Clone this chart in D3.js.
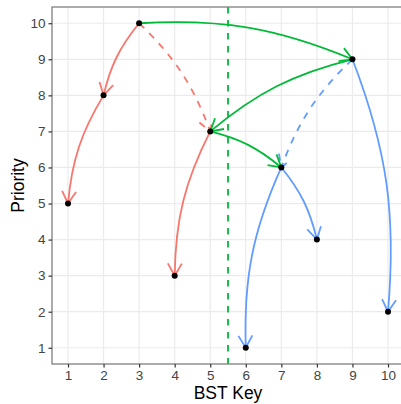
<!DOCTYPE html>
<html>
<head>
<meta charset="utf-8">
<script src="https://cdn.jsdelivr.net/npm/d3@7"></script>
<style>
body { margin: 0; background: #fff; }
svg text { font-family: "Liberation Sans", Arial, sans-serif; }
</style>
</head>
<body>
<svg id="mainSVG" width="401" height="404"></svg>
<script>
// nodes of the treap
var keys = [1, 2, 3, 4, 5, 6, 7, 8, 9, 10];
var priorities = [5, 8, 10, 3, 7, 1, 6, 4, 9, 2];

// edges (parent key -> child key)
var edgeFrom  = [3, 2, 3, 5, 9, 7, 7, 9, 3, 9, 5];
var edgeTo    = [2, 1, 5, 4, 10, 6, 8, 7, 9, 5, 7];
var edgeGroup = ["left", "left", "left", "left", "right", "right", "right", "right", "path", "path", "path"];
var edgeDash  = [false, false, true, false, false, false, false, true, false, false, false];

var splitKey = 5.5;
var xTicks = [1, 2, 3, 4, 5, 6, 7, 8, 9, 10];
var yTicks = [1, 2, 3, 4, 5, 6, 7, 8, 9, 10];

var colors = { left: "#F8766D", right: "#619CFF", path: "#00BA38" };

var svg = d3.select("#mainSVG");
var pLeft = 52, pRight = 404, pTop = 7, pBottom = 364;

var x = d3.scaleLinear().domain([0.55, 10.45]).range([pLeft, pRight]);
var y = d3.scaleLinear().domain([0.55, 10.45]).range([pBottom, pTop]);

// grid
var grid = svg.append("g");
grid.selectAll("line.gx").data(xTicks).enter().append("line")
    .attr("x1", function(d) { return x(d); })
    .attr("x2", function(d) { return x(d); })
    .attr("y1", pTop).attr("y2", pBottom)
    .attr("stroke", "#EBEBEB").attr("stroke-width", 1.2);
grid.selectAll("line.gy").data(yTicks).enter().append("line")
    .attr("y1", function(d) { return y(d); })
    .attr("y2", function(d) { return y(d); })
    .attr("x1", pLeft).attr("x2", pRight)
    .attr("stroke", "#EBEBEB").attr("stroke-width", 1.2);

// split line
svg.append("line")
    .attr("x1", x(splitKey)).attr("x2", x(splitKey))
    .attr("y1", pTop).attr("y2", pBottom)
    .attr("stroke", "#00BA38")
    .attr("stroke-width", 1.8)
    .attr("stroke-dasharray", "6.5,6.5");

function prio(k) { return priorities[keys.indexOf(k)]; }

// curved arrows, bulge always points upwards
function drawEdge(i) {
    var x1 = x(edgeFrom[i]), y1 = y(prio(edgeFrom[i]));
    var x2 = x(edgeTo[i]), y2 = y(prio(edgeTo[i]));
    var sx = x2 - x1, sy = y2 - y1;
    var len = Math.sqrt(sx * sx + sy * sy);
    var ux = sx / len, uy = sy / len;
    var nx, ny;
    if (edgeTo[i] > edgeFrom[i]) { nx = uy; ny = -ux; }
    else { nx = -uy; ny = ux; }
    var alpha = 13 * Math.PI / 180, d = 0.38 * len;
    var ca = Math.cos(alpha), sa = Math.sin(alpha);
    var c1x = x1 + d * (ux * ca + nx * sa), c1y = y1 + d * (uy * ca + ny * sa);
    var c2x = x2 + d * (-ux * ca + nx * sa), c2y = y2 + d * (-uy * ca + ny * sa);
    var col = colors[edgeGroup[i]];

    var p = d3.path();
    p.moveTo(x1, y1);
    p.bezierCurveTo(c1x, c1y, c2x, c2y, x2, y2);
    var curve = svg.append("path")
        .attr("d", p.toString())
        .attr("fill", "none")
        .attr("stroke", col)
        .attr("stroke-width", 1.8);
    if (edgeDash[i]) curve.attr("stroke-dasharray", "7,7");

    // open arrow head
    var ang = Math.atan2(y2 - c2y, x2 - c2x);
    var aLen = 14, aAng = Math.PI / 6;
    var a = d3.path();
    a.moveTo(x2 - aLen * Math.cos(ang - aAng), y2 - aLen * Math.sin(ang - aAng));
    a.lineTo(x2, y2);
    a.lineTo(x2 - aLen * Math.cos(ang + aAng), y2 - aLen * Math.sin(ang + aAng));
    var head = svg.append("path")
        .attr("d", a.toString())
        .attr("fill", "none")
        .attr("stroke", col)
        .attr("stroke-width", 1.8);
    if (edgeDash[i]) head.attr("stroke-dasharray", "7,7");
}

var order = [];
edgeGroup.forEach(function(g, i) { if (g == "left") order.push(i); });
edgeGroup.forEach(function(g, i) { if (g == "right") order.push(i); });
edgeGroup.forEach(function(g, i) { if (g == "path") order.push(i); });
order.forEach(drawEdge);

// points
svg.selectAll("circle.pt").data(keys).enter().append("circle")
    .attr("cx", function(d) { return x(d); })
    .attr("cy", function(d, i) { return y(priorities[i]); })
    .attr("r", 3)
    .attr("fill", "black");

// panel border
svg.append("rect")
    .attr("x", pLeft).attr("y", pTop)
    .attr("width", pRight - pLeft).attr("height", pBottom - pTop)
    .attr("fill", "none")
    .attr("stroke", "#7F7F7F")
    .attr("stroke-width", 1.3);

// axes
var xAxis = svg.append("g").attr("transform", "translate(0," + pBottom + ")")
    .call(d3.axisBottom(x).tickValues(xTicks).tickSize(3.5).tickPadding(3).tickFormat(d3.format("d")));
var yAxis = svg.append("g").attr("transform", "translate(" + pLeft + ",0)")
    .call(d3.axisLeft(y).tickValues(yTicks).tickSize(3.5).tickPadding(3).tickFormat(d3.format("d")));
[xAxis, yAxis].forEach(function(ax) {
    ax.select(".domain").remove();
    ax.attr("font-size", null).attr("font-family", null);
    ax.selectAll(".tick line").attr("stroke", "#333333").attr("stroke-width", 1.2);
    ax.selectAll(".tick text").attr("fill", "#444444").style("font-size", "13.5px");
});

// titles
svg.append("text")
    .attr("x", (pLeft + pRight) / 2).attr("y", 399)
    .attr("text-anchor", "middle")
    .style("font-size", "17.5px")
    .attr("fill", "black")
    .text("BST Key");
svg.append("text")
    .attr("transform", "translate(24," + (pTop + pBottom) / 2 + ") rotate(-90)")
    .attr("text-anchor", "middle")
    .style("font-size", "17.5px")
    .attr("fill", "black")
    .text("Priority");
</script>
</body>
</html>
